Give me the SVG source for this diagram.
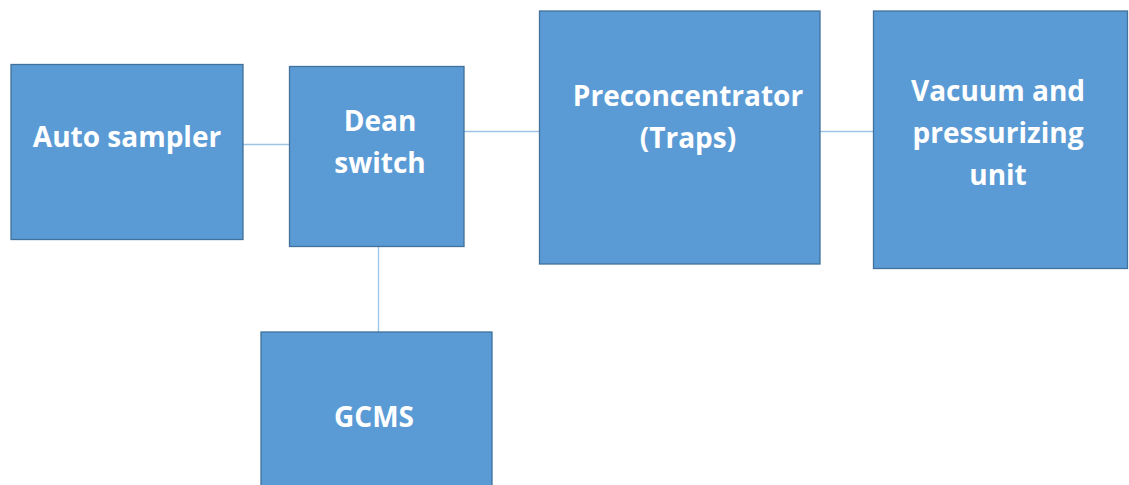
<svg xmlns="http://www.w3.org/2000/svg" width="1129" height="485" viewBox="0 0 1129 485">
<style>
.box{fill:#5B9BD5;stroke:#41719C;stroke-width:1.3}
.lbl{font-family:"Open Sans","Liberation Sans",sans-serif;font-weight:bold;font-size:28px;fill:#FFFFFF;text-anchor:middle}
.conn{stroke:#9DC3E6;stroke-width:1.3;fill:none}
</style>
<rect width="1129" height="485" fill="#FFFFFF"/>
<g id="connectors">
<line class="conn" x1="243" y1="144.5" x2="289" y2="144.5"/>
<line class="conn" x1="464" y1="131.5" x2="539" y2="131.5"/>
<line class="conn" x1="820" y1="131.5" x2="873" y2="131.5"/>
<line class="conn" x1="378.5" y1="247" x2="378.5" y2="332"/>
</g>
<g id="auto-sampler">
<rect class="box" x="11" y="64.5" width="232" height="175"/>
<text class="lbl" x="127" y="146.5">Auto sampler</text>
</g>
<g id="dean-switch">
<rect class="box" x="289.5" y="66.5" width="174.5" height="180"/>
<text class="lbl" x="380" y="130.5">Dean</text>
<text class="lbl" x="380" y="172.5">switch</text>
</g>
<g id="preconcentrator">
<rect class="box" x="539.5" y="11" width="280.5" height="253"/>
<text class="lbl" x="688" y="106">Preconcentrator</text>
<text class="lbl" x="688" y="148">(Traps)</text>
</g>
<g id="vacuum-unit">
<rect class="box" x="873.5" y="11" width="254" height="257.5"/>
<text class="lbl" x="998" y="101">Vacuum and</text>
<text class="lbl" x="998" y="143">pressurizing</text>
<text class="lbl" x="998" y="185">unit</text>
</g>
<g id="gcms">
<rect class="box" x="261" y="332" width="231" height="160"/>
<text class="lbl" x="374" y="426.5">GCMS</text>
</g>
</svg>
